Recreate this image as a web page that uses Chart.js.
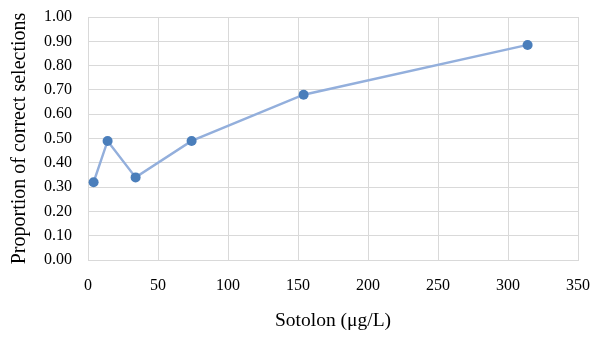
<!DOCTYPE html>
<html>
<head>
<meta charset="utf-8">
<script src="https://cdn.jsdelivr.net/npm/chart.js@4/dist/chart.umd.min.js"></script>
<style>
  html, body { margin: 0; padding: 0; background: #fff; }
  #wrap { width: 600px; height: 338px; }
</style>
</head>
<body>
<div id="wrap"><canvas id="sotolonChart"></canvas></div>
<script>
// data
const concentrations = [4, 14, 34, 74, 154, 314];
const proportions = [0.32, 0.49, 0.34, 0.49, 0.68, 0.885];
const xTicks = [0, 50, 100, 150, 200, 250, 300, 350];
const yTicks = [0, 0.1, 0.2, 0.3, 0.4, 0.5, 0.6, 0.7, 0.8, 0.9, 1.0];

const points = concentrations.map((c, i) => ({ x: c, y: proportions[i] }));
const serif = 'Liberation Serif';
const gridColor = '#d9d9d9';

const ctx = document.getElementById('sotolonChart');

new Chart(ctx, {
    type: 'scatter',
    data: {
        datasets: [{
            data: points,
            showLine: true,
            borderColor: '#93afdc',
            borderWidth: 2.4,
            pointBackgroundColor: '#4a7ebb',
            pointBorderColor: '#4a7ebb',
            pointRadius: 5,
            pointBorderWidth: 0
        }]
    },
    options: {
        responsive: true,
        maintainAspectRatio: false,
        animation: false,
        layout: {
            padding: { left: 0, right: 22, top: 17, bottom: 0 }
        },
        plugins: {
            legend: { display: false },
            tooltip: { enabled: false }
        },
        scales: {
            x: {
                type: 'linear',
                min: 0,
                max: 350,
                afterBuildTicks: (scale) => { scale.ticks = xTicks.map(v => ({ value: v })); },
                afterFit: (scale) => {
                    scale.height = 78;
                    scale.paddingLeft = 0;
                    scale.paddingRight = 0;
                },
                grid: { color: gridColor, drawTicks: false },
                border: { color: gridColor },
                ticks: {
                    color: '#000',
                    padding: 16,
                    maxRotation: 0,
                    font: { family: serif, size: 16 }
                },
                title: {
                    display: true,
                    text: 'Sotolon (μg/L)',
                    color: '#000',
                    padding: { top: 0, bottom: 5 },
                    font: { family: serif, size: 19.5 }
                }
            },
            y: {
                min: 0,
                max: 1,
                afterBuildTicks: (scale) => { scale.ticks = yTicks.map(v => ({ value: v })); },
                afterFit: (scale) => {
                    scale.width = 88;
                    scale.paddingTop = 0;
                    scale.paddingBottom = 0;
                },
                grid: { color: gridColor, drawTicks: false },
                border: { color: gridColor },
                ticks: {
                    color: '#000',
                    padding: 16,
                    font: { family: serif, size: 16 },
                    callback: (v) => Number(v).toFixed(2)
                },
                title: {
                    display: true,
                    text: 'Proportion of correct selections',
                    color: '#000',
                    padding: { top: 8, bottom: 0 },
                    font: { family: serif, size: 20 }
                }
            }
        }
    }
});
</script>
</body>
</html>
